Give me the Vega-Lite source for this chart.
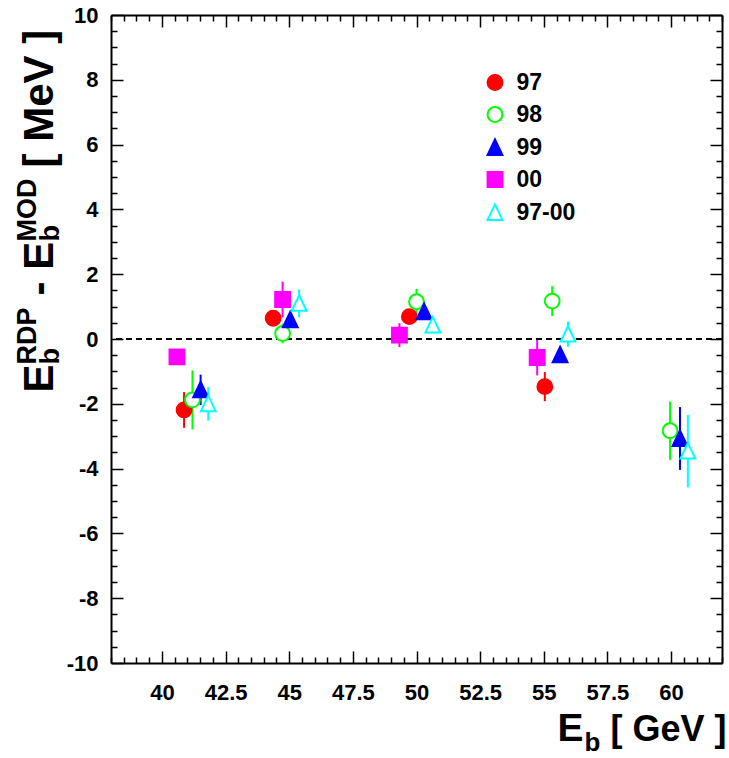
{
  "$schema": "https://vega.github.io/schema/vega-lite/v6.json",
  "autosize": {"type": "none"},
  "padding": {"left": 111, "top": 15, "right": 7, "bottom": 95},
  "width": 611,
  "height": 648,
  "background": "white",
  "config": {
    "view": {"stroke": null},
    "axis": {
      "labelFont": "Liberation Sans", "labelFontWeight": "bold", "labelFontSize": 22, "labelColor": "black",
      "titleFont": "Liberation Sans", "titleFontWeight": "bold", "titleColor": "black",
      "domainColor": "black", "domainWidth": 2, "tickColor": "black", "tickWidth": 1.5, "grid": false,
      "labelOverlap": false, "labelFlush": false
    },
    "legend": {
      "labelFont": "Liberation Sans", "labelFontWeight": "bold", "labelFontSize": 23, "labelColor": "black",
      "padding": 0, "symbolStrokeWidth": 2, "symbolSize": 220, "labelOffset": 10, "rowPadding": 8
    }
  },
  "data": {"values": [
    {"s": "97", "x": 40.87, "y": -2.19, "lo": -2.74, "hi": -1.64},
    {"s": "97", "x": 44.37, "y": 0.64, "lo": 0.44, "hi": 0.84},
    {"s": "97", "x": 49.72, "y": 0.69, "lo": 0.49, "hi": 0.89},
    {"s": "97", "x": 55.04, "y": -1.47, "lo": -1.92, "hi": -1.02},
    {"s": "98", "x": 41.2, "y": -1.88, "lo": -2.79, "hi": -0.97},
    {"s": "98", "x": 44.74, "y": 0.17, "lo": -0.13, "hi": 0.47},
    {"s": "98", "x": 50.0, "y": 1.15, "lo": 0.75, "hi": 1.55},
    {"s": "98", "x": 55.33, "y": 1.17, "lo": 0.71, "hi": 1.63},
    {"s": "98", "x": 59.96, "y": -2.83, "lo": -3.73, "hi": -1.93},
    {"s": "99", "x": 41.52, "y": -1.57, "lo": -2.04, "hi": -1.1},
    {"s": "99", "x": 45.04, "y": 0.59, "lo": 0.39, "hi": 0.79},
    {"s": "99", "x": 50.3, "y": 0.84, "lo": 0.64, "hi": 1.04},
    {"s": "99", "x": 55.64, "y": -0.49, "lo": -0.64, "hi": -0.34},
    {"s": "99", "x": 60.35, "y": -3.07, "lo": -4.04, "hi": -2.1},
    {"s": "00", "x": 40.59, "y": -0.55, "lo": -0.75, "hi": -0.35},
    {"s": "00", "x": 44.74, "y": 1.22, "lo": 0.67, "hi": 1.77},
    {"s": "00", "x": 49.33, "y": 0.12, "lo": -0.25, "hi": 0.49},
    {"s": "00", "x": 54.74, "y": -0.57, "lo": -1.12, "hi": -0.02},
    {"s": "97-00", "x": 41.82, "y": -2.0, "lo": -2.52, "hi": -1.48},
    {"s": "97-00", "x": 45.39, "y": 1.1, "lo": 0.67, "hi": 1.53},
    {"s": "97-00", "x": 50.64, "y": 0.43, "lo": 0.23, "hi": 0.63},
    {"s": "97-00", "x": 55.95, "y": 0.15, "lo": -0.24, "hi": 0.54},
    {"s": "97-00", "x": 60.66, "y": -3.46, "lo": -4.58, "hi": -2.34}
  ]},
  "resolve": {"axis": {"x": "independent", "y": "independent"}},
  "layer": [
    {
      "transform": [{"filter": "datum.s === '97'"}],
      "mark": {"type": "rule", "strokeWidth": 2, "color": "#ff0000"},
      "encoding": {
        "x": {"field": "x", "type": "quantitative", "scale": {"domain": [38, 62], "nice": false, "zero": false}, "axis": null},
        "y": {"field": "lo", "type": "quantitative", "scale": {"domain": [-10, 10], "nice": false, "zero": false},
          "axis": {"orient": "left", "title": null, "labels": false, "domain": true, "ticks": true,
            "values": [-10,-9.5,-9,-8.5,-8,-7.5,-7,-6.5,-6,-5.5,-5,-4.5,-4,-3.5,-3,-2.5,-2,-1.5,-1,-0.5,0,0.5,1,1.5,2,2.5,3,3.5,4,4.5,5,5.5,6,6.5,7,7.5,8,8.5,9,9.5,10],
            "tickSize": {"condition": {"test": "datum.value % 2 === 0", "value": -12}, "value": -6}}},
        "y2": {"field": "hi"}
      }
    },
    {
      "transform": [{"filter": "datum.s === '98'"}],
      "mark": {"type": "rule", "strokeWidth": 2, "color": "#00ff00"},
      "encoding": {
        "x": {"field": "x", "type": "quantitative", "axis": null},
        "y": {"field": "lo", "type": "quantitative", "axis": null},
        "y2": {"field": "hi"}
      }
    },
    {
      "transform": [{"filter": "datum.s === '99'"}],
      "mark": {"type": "rule", "strokeWidth": 2, "color": "#0000ff"},
      "encoding": {
        "x": {"field": "x", "type": "quantitative", "axis": null},
        "y": {"field": "lo", "type": "quantitative", "axis": null},
        "y2": {"field": "hi"}
      }
    },
    {
      "transform": [{"filter": "datum.s === '00'"}],
      "mark": {"type": "rule", "strokeWidth": 2, "color": "#ff00ff"},
      "encoding": {
        "x": {"field": "x", "type": "quantitative", "axis": null},
        "y": {"field": "lo", "type": "quantitative", "axis": null},
        "y2": {"field": "hi"}
      }
    },
    {
      "transform": [{"filter": "datum.s === '97-00'"}],
      "mark": {"type": "rule", "strokeWidth": 2, "color": "#00ffff"},
      "encoding": {
        "x": {"field": "x", "type": "quantitative", "axis": null},
        "y": {"field": "lo", "type": "quantitative", "axis": null},
        "y2": {"field": "hi"}
      }
    },
    {
      "mark": {"type": "rule", "strokeDash": [6, 4], "strokeWidth": 1.5, "color": "black"},
      "encoding": {
        "y": {"datum": 0, "type": "quantitative",
          "axis": {"orient": "right", "title": null, "labels": false, "domain": true, "ticks": true,
            "values": [-10,-9.5,-9,-8.5,-8,-7.5,-7,-6.5,-6,-5.5,-5,-4.5,-4,-3.5,-3,-2.5,-2,-1.5,-1,-0.5,0,0.5,1,1.5,2,2.5,3,3.5,4,4.5,5,5.5,6,6.5,7,7.5,8,8.5,9,9.5,10],
            "tickSize": {"condition": {"test": "datum.value % 2 === 0", "value": -12}, "value": -6}}}
      }
    },
    {
      "mark": {"type": "point", "opacity": 1, "strokeWidth": 2, "size": 220},
      "encoding": {
        "x": {"field": "x", "type": "quantitative", "axis": null},
        "y": {"field": "y", "type": "quantitative",
          "axis": {"orient": "left", "title": null, "ticks": false, "domain": false, "labelPadding": 13,
            "values": [-10, -8, -6, -4, -2, 0, 2, 4, 6, 8, 10], "labelExpr": "'' + datum.value"}},
        "shape": {"field": "s", "type": "nominal", "title": null,
          "scale": {"domain": ["97", "98", "99", "00", "97-00"],
            "range": ["circle", "circle", "M0,-1.1L1,1L-1,1Z", "square", "M0,-1.1L1,1L-1,1Z"]},
          "legend": {"orient": "none", "legendX": 372.5, "legendY": 56, "title": null}},
        "fill": {"field": "s", "type": "nominal", "title": null,
          "scale": {"domain": ["97", "98", "99", "00", "97-00"], "range": ["#ff0000", "#ffffff", "#0000ff", "#ff00ff", "#ffffff"]},
          "legend": {"orient": "none", "legendX": 372.5, "legendY": 56, "title": null}},
        "stroke": {"field": "s", "type": "nominal", "title": null,
          "scale": {"domain": ["97", "98", "99", "00", "97-00"], "range": ["#ff0000", "#00ff00", "#0000ff", "#ff00ff", "#00ffff"]},
          "legend": {"orient": "none", "legendX": 372.5, "legendY": 56, "title": null}}
      }
    },
    {
      "mark": {"type": "point", "opacity": 0},
      "encoding": {
        "x": {"field": "x", "type": "quantitative",
          "axis": {"orient": "bottom", "title": null, "labels": false, "domain": true, "ticks": true,
            "values": [38,38.5,39,39.5,40,40.5,41,41.5,42,42.5,43,43.5,44,44.5,45,45.5,46,46.5,47,47.5,48,48.5,49,49.5,50,50.5,51,51.5,52,52.5,53,53.5,54,54.5,55,55.5,56,56.5,57,57.5,58,58.5,59,59.5,60,60.5,61,61.5,62],
            "tickSize": {"condition": {"test": "datum.value % 2.5 === 0", "value": -12}, "value": -6}}},
        "y": {"field": "y", "type": "quantitative",
          "axis": {"orient": "left", "labels": false, "ticks": false, "domain": false,
            "title": "E", "titleFontSize": 42, "titleAngle": 270, "titleAlign": "left", "titleBaseline": "alphabetic", "titleX": -59, "titleY": 377}}
      }
    },
    {
      "mark": {"type": "point", "opacity": 0},
      "encoding": {
        "x": {"field": "x", "type": "quantitative",
          "axis": {"orient": "top", "title": null, "labels": false, "domain": true, "ticks": true,
            "values": [38,38.5,39,39.5,40,40.5,41,41.5,42,42.5,43,43.5,44,44.5,45,45.5,46,46.5,47,47.5,48,48.5,49,49.5,50,50.5,51,51.5,52,52.5,53,53.5,54,54.5,55,55.5,56,56.5,57,57.5,58,58.5,59,59.5,60,60.5,61,61.5,62],
            "tickSize": {"condition": {"test": "datum.value % 2.5 === 0", "value": -12}, "value": -6}}},
        "y": {"field": "y", "type": "quantitative",
          "axis": {"orient": "left", "labels": false, "ticks": false, "domain": false,
            "title": "b", "titleFontSize": 27, "titleAngle": 270, "titleAlign": "left", "titleBaseline": "alphabetic", "titleX": -53, "titleY": 349}}
      }
    },
    {
      "mark": {"type": "point", "opacity": 0},
      "encoding": {
        "x": {"field": "x", "type": "quantitative",
          "axis": {"orient": "bottom", "ticks": false, "domain": false, "labelPadding": 19,
            "values": [40, 42.5, 45, 47.5, 50, 52.5, 55, 57.5, 60], "labelExpr": "'' + datum.value",
            "title": "E", "titleFontSize": 39, "titleAlign": "left", "titleBaseline": "alphabetic", "titleX": 446, "titleY": 77}},
        "y": {"field": "y", "type": "quantitative",
          "axis": {"orient": "left", "labels": false, "ticks": false, "domain": false,
            "title": "RDP", "titleFontSize": 27, "titleAngle": 270, "titleAlign": "left", "titleBaseline": "alphabetic", "titleX": -76, "titleY": 349}}
      }
    },
    {
      "mark": {"type": "point", "opacity": 0},
      "encoding": {
        "x": {"field": "x", "type": "quantitative",
          "axis": {"orient": "bottom", "ticks": false, "domain": false, "labels": false,
            "title": "b", "titleFontSize": 26, "titleAlign": "left", "titleBaseline": "alphabetic", "titleX": 473, "titleY": 87}},
        "y": {"field": "y", "type": "quantitative",
          "axis": {"orient": "left", "labels": false, "ticks": false, "domain": false,
            "title": "- E", "titleFontSize": 42, "titleAngle": 270, "titleAlign": "left", "titleBaseline": "alphabetic", "titleX": -59, "titleY": 280}}
      }
    },
    {
      "mark": {"type": "point", "opacity": 0},
      "encoding": {
        "x": {"field": "x", "type": "quantitative",
          "axis": {"orient": "bottom", "ticks": false, "domain": false, "labels": false,
            "title": "[ GeV ]", "titleFontSize": 36, "titleAlign": "left", "titleBaseline": "alphabetic", "titleX": 499, "titleY": 77}},
        "y": {"field": "y", "type": "quantitative",
          "axis": {"orient": "left", "labels": false, "ticks": false, "domain": false,
            "title": "b", "titleFontSize": 27, "titleAngle": 270, "titleAlign": "left", "titleBaseline": "alphabetic", "titleX": -53, "titleY": 226}}
      }
    },
    {
      "mark": {"type": "point", "opacity": 0},
      "encoding": {
        "x": {"field": "x", "type": "quantitative", "axis": null},
        "y": {"field": "y", "type": "quantitative",
          "axis": {"orient": "left", "labels": false, "ticks": false, "domain": false,
            "title": "MOD", "titleFontSize": 27, "titleAngle": 270, "titleAlign": "left", "titleBaseline": "alphabetic", "titleX": -76, "titleY": 226}}
      }
    },
    {
      "mark": {"type": "point", "opacity": 0},
      "encoding": {
        "x": {"field": "x", "type": "quantitative", "axis": null},
        "y": {"field": "y", "type": "quantitative",
          "axis": {"orient": "left", "labels": false, "ticks": false, "domain": false,
            "title": "[ MeV ]", "titleFontSize": 42, "titleAngle": 270, "titleAlign": "left", "titleBaseline": "alphabetic", "titleX": -59, "titleY": 152}}
      }
    }
  ]
}
